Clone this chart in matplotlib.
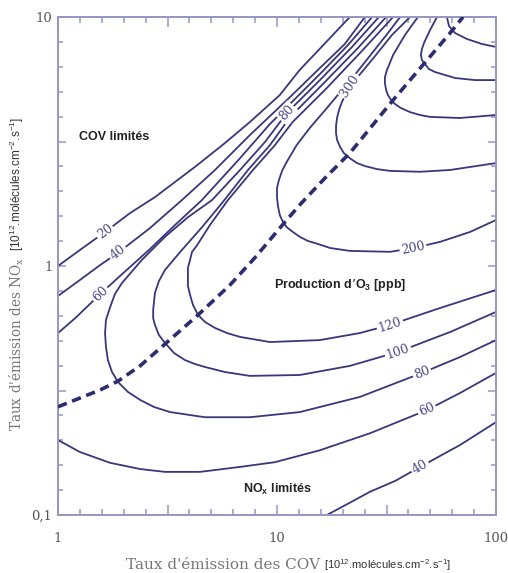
import numpy as np
import matplotlib
matplotlib.use("Agg")
import matplotlib.pyplot as plt
from matplotlib.ticker import FixedLocator, FixedFormatter, NullFormatter

plt.rcParams['mathtext.default'] = 'regular'

# isoplèthes d'ozone (COV, NOx) en 1e12 molécules/cm2/s
c20_x = [1.00, 1.26, 1.64, 2.13, 2.77, 4.22, 5.79, 7.53, 10.3, 12.7, 16.6, 21.5]
c20_y = [1.00, 1.16, 1.37, 1.63, 1.89, 2.50, 3.12, 3.79, 4.86, 6.13, 7.86, 10.0]

c40_x = [1.00, 1.26, 1.56, 1.88, 2.63, 3.68, 5.21, 7.53, 11.1, 15.7, 20.4, 25.2]
c40_y = [0.758, 0.879, 1.01, 1.13, 1.42, 1.84, 2.43, 3.36, 4.64, 6.24, 7.79, 10.0]
c40b_x = [16.9, 21.5, 26.6, 34.6, 45.0, 68.5, 100]
c40b_y = [0.100, 0.112, 0.124, 0.137, 0.156, 0.191, 0.236]

c60_x = [1.00, 1.20, 1.56, 1.92, 2.63, 3.42, 4.54, 6.78, 9.29, 11.1, 15.7, 21.1, 27.2]
c60_y = [0.538, 0.618, 0.772, 0.912, 1.17, 1.46, 1.84, 2.71, 3.72, 4.35, 5.90, 7.72, 10.0]
c60b_x = [1.00, 1.26, 1.73, 2.37, 3.08, 4.45, 6.78, 9.79, 15.7, 26.6, 48.4, 68.5, 100]
c60b_y = [0.200, 0.179, 0.162, 0.153, 0.149, 0.149, 0.156, 0.163, 0.182, 0.213, 0.264, 0.309, 0.372]

c80_x = [29.2, 22.0, 15.7, 11.1, 8.82, 6.78, 5.05, 3.92, 3.08, 2.42, 1.96, 1.82, 1.73, 1.656, 1.64,
         1.656, 1.69, 1.765, 1.88, 2.087, 2.37, 2.744, 3.25, 4.69, 7.53, 12.7, 23.9, 45.9, 68.5, 100]
c80_y = [10.0, 7.58, 5.58, 4.12, 3.15, 2.43, 1.84, 1.57, 1.31, 1.06, 0.855, 0.772, 0.684, 0.607, 0.538,
         0.473, 0.419, 0.375, 0.342, 0.312, 0.290, 0.2715, 0.259, 0.247, 0.247, 0.259, 0.298, 0.372, 0.431, 0.504]

c100_x = [31.5, 23.2, 16.2, 11.5, 9.29, 7.37, 5.61, 4.54, 3.68, 3.08, 2.89, 2.77, 2.72, 2.72,
          2.77, 2.89, 3.08, 3.39, 3.80, 4.22, 4.69, 5.79, 7.53, 12.7, 21.5, 35.7, 61.7, 100]
c100_y = [10.0, 7.44, 5.38, 3.97, 3.06, 2.43, 1.79, 1.43, 1.16, 0.964, 0.870, 0.779, 0.666, 0.618,
          0.580, 0.528, 0.491, 0.447, 0.419, 0.404, 0.393, 0.375, 0.362, 0.365, 0.397, 0.452, 0.543, 0.654]

c120_x = [33.9, 24.4, 16.9, 11.8, 9.79, 7.77, 5.97, 4.94, 4.31, 4.09, 4.01, 3.92, 3.92, 3.92,
          4.01, 4.135, 4.36, 4.69, 5.21, 5.91, 6.78, 9.29, 15.7, 23.9, 32.8, 55.5, 100]
c120_y = [10.0, 7.30, 5.19, 3.79, 3.06, 2.43, 1.84, 1.46, 1.21, 1.138, 1.06, 0.982, 0.903, 0.831,
          0.765, 0.697, 0.636, 0.596, 0.564, 0.538, 0.519, 0.495, 0.504, 0.538, 0.580, 0.678, 0.801]

c200_x = [36.5, 32.1, 27.2, 23.2, 19.8, 16.6, 14.1, 12.3, 11.0, 10.54, 10.2, 10.0, 10.0, 10.1,
          10.3, 10.65, 11.1, 11.83, 12.7, 13.86, 15.2, 17.5, 21.5, 32.8, 41.8, 55.5, 76.1, 100]
c200_y = [10.0, 8.62, 7.17, 6.01, 5.09, 4.23, 3.58, 3.06, 2.59, 2.407, 2.21, 2.057, 1.89, 1.742,
          1.60, 1.502, 1.43, 1.369, 1.31, 1.26, 1.23, 1.181, 1.15, 1.14, 1.18, 1.25, 1.37, 1.53]

c300_x = [40.5, 33.5, 28.3, 24.4, 21.5, 19.8, 19.19, 18.8, 18.6, 18.6, 18.8, 19.4, 20.2, 21.5,
          23.2, 25.2, 28.6, 32.8, 45.0, 61.7, 100]
c300_y = [10.0, 8.47, 7.04, 6.01, 5.28, 4.56, 4.23, 3.93, 3.65, 3.42, 3.21, 3.01, 2.84, 2.71,
          2.59, 2.52, 2.45, 2.41, 2.39, 2.43, 2.59]

# isoplèthes supérieures non étiquetées
ca_x = [44.0, 38.4, 33.9, 31.8, 31.1, 31.1, 31.5, 32.1, 33.2, 34.6, 36.8, 40.5, 45.0, 50.0, 68.5, 100]
ca_y = [10.0, 8.47, 7.04, 6.13, 5.74, 5.43, 5.09, 4.86, 4.64, 4.47, 4.31, 4.15, 4.04, 3.97, 3.93, 4.04]
cb_x = [53.8, 50.0, 46.9, 45.9, 45.4, 45.9, 47.4, 49.4, 52.7, 65.0, 80.2, 100]
cb_y = [10.0, 8.87, 7.86, 7.44, 7.04, 6.72, 6.47, 6.18, 6.01, 5.69, 5.58, 5.58]
cc_x = [59.7, 61.0, 65.0, 73.7, 86.3, 100]
cc_y = [10.0, 9.20, 8.62, 8.16, 7.79, 7.58]

# ligne de crête (transition COV / NOx limités)
crete_x = [1.00, 1.26, 1.56, 1.88, 2.37, 3.08, 4.36, 6.10, 7.93, 10.3, 12.7, 16.6, 21.5, 33.9, 46.4, 61.7, 70.7]
crete_y = [0.272, 0.295, 0.318, 0.345, 0.397, 0.486, 0.636, 0.839, 1.08, 1.42, 1.76, 2.26, 2.84, 4.64, 6.42, 8.62, 10.0]

courbes = [(c20_x, c20_y), (c40_x, c40_y), (c40b_x, c40b_y), (c60_x, c60_y), (c60b_x, c60b_y),
           (c80_x, c80_y), (c100_x, c100_y), (c120_x, c120_y), (c200_x, c200_y),
           (c300_x, c300_y), (ca_x, ca_y), (cb_x, cb_y), (cc_x, cc_y)]

# (courbe, indice du point, texte)
etiquettes = [(c20_x, c20_y, 2, '20'), (c40_x, c40_y, 3, '40'), (c60_x, c60_y, 2, '60'),
              (c80_x, c80_y, 3, '80'), (c300_x, c300_y, 4, '300'), (c200_x, c200_y, 24, '200'),
              (c120_x, c120_y, 24, '120'), (c100_x, c100_y, 25, '100'), (c80_x, c80_y, 27, '80'),
              (c60b_x, c60b_y, 10, '60'), (c40b_x, c40b_y, 4, '40')]

ligne = '#37377b'
bord = '#9696c2'

fig = plt.figure(figsize=(5.08, 5.73), dpi=100)
ax = fig.add_axes([58 / 508, 1 - 515 / 573, 438 / 508, 498 / 573])
ax.set_xscale('log')
ax.set_yscale('log')
ax.set_xlim(1, 100)
ax.set_ylim(0.1, 10)

for xs, ys in courbes:
    ax.plot(xs, ys, color=ligne, lw=1.3, zorder=2, solid_capstyle='butt', solid_joinstyle='round')

ax.plot(crete_x, crete_y, color='#2c2c70', lw=2.6, dashes=(2.6, 1.6), zorder=3)

for xs, ys, i, txt in etiquettes:
    p = ax.transData.transform(np.column_stack([xs, ys]))
    j0, j1 = max(i - 1, 0), min(i + 1, len(xs) - 1)
    dx, dy = p[j1] - p[j0]
    ang = np.degrees(np.arctan2(dy, dx))
    if ang > 90:
        ang -= 180
    if ang < -90:
        ang += 180
    ax.text(xs[i], ys[i], txt, rotation=ang, rotation_mode='anchor', ha='center', va='center',
            fontsize=9, family='DejaVu Serif', color='#4a4a8a', zorder=5,
            bbox=dict(fc='white', ec='none', pad=1.2))

# graduations : décades + demi-décades longues, dixièmes de décade courtes
ax.xaxis.set_major_locator(FixedLocator([1, 10 ** 0.5, 10, 10 ** 1.5, 100]))
ax.xaxis.set_major_formatter(FixedFormatter(['1', '', '10', '', '100']))
ax.yaxis.set_major_locator(FixedLocator([0.1, 10 ** -0.5, 1, 10 ** 0.5, 10]))
ax.yaxis.set_major_formatter(FixedFormatter(['0,1', '', '1', '', '10']))
ax.xaxis.set_minor_locator(FixedLocator(np.logspace(0, 2, 21)))
ax.yaxis.set_minor_locator(FixedLocator(np.logspace(-1, 1, 21)))
ax.xaxis.set_minor_formatter(NullFormatter())
ax.yaxis.set_minor_formatter(NullFormatter())

ax.tick_params(axis='both', which='both', direction='in', top=True, right=True, color=bord, width=1.1,
               labelcolor='#555555', labelsize=9.5)
ax.tick_params(axis='x', which='major', length=7, pad=12)
ax.tick_params(axis='x', which='minor', length=4.5)
ax.tick_params(axis='y', which='major', length=6, pad=4)
ax.tick_params(axis='y', which='minor', length=3.5)
for lab in ax.get_xticklabels() + ax.get_yticklabels():
    lab.set_family('DejaVu Serif')
for s in ax.spines.values():
    s.set_color(bord)
    s.set_linewidth(1.4)

gras = dict(family='Liberation Sans', fontweight='bold', fontsize=9, color='#222222')
ax.text(0.048, 0.759, 'COV limités', transform=ax.transAxes, ha='left', va='center', **gras)
ax.text(0.644, 0.462, 'Production d’O$_{3}$ [ppb]', transform=ax.transAxes, ha='center', va='center', **gras)
ax.text(0.5, 0.052, 'NO$_{x}$ limités', transform=ax.transAxes, ha='center', va='center', **gras)

unite = '[10$^{12}$.molécules.cm$^{-2}$.s$^{-1}$]'
fig.text(320 / 508, 1 - 565 / 573, "Taux d'émission des COV", ha='right', va='center',
         family='DejaVu Serif', fontsize=11, color='#777777')
fig.text(324 / 508, 1 - 565 / 573, unite, ha='left', va='center',
         family='Liberation Sans', fontsize=8, color='#333333')
fig.text(17 / 508, 1 - 257 / 573, "Taux d'émission des NO$_{x}$", rotation=90, ha='center', va='top',
         family='DejaVu Serif', fontsize=9.8, color='#777777')
fig.text(17 / 508, 1 - 251 / 573, unite, rotation=90, ha='center', va='bottom',
         family='Liberation Sans', fontsize=8.5, color='#333333')

fig.savefig('out.png', dpi=100, facecolor='white')
